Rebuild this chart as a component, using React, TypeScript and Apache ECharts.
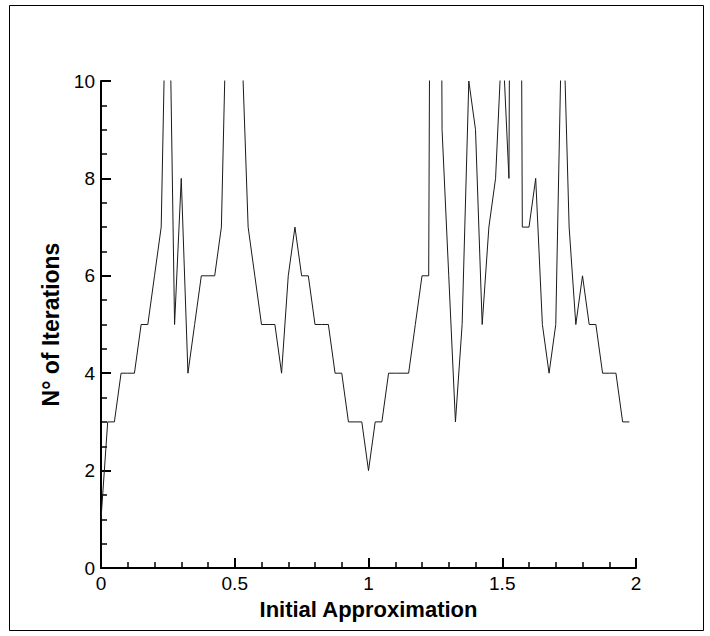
import React, { useEffect, useRef } from "react";
import * as echarts from "echarts";

// Starting guess x0 for each run of the iteration
const approximations = [
  0, 0.025, 0.05, 0.075, 0.1, 0.125, 0.15, 0.175, 0.2, 0.225,
  0.25, 0.275, 0.3, 0.325, 0.35, 0.375, 0.4, 0.425, 0.45, 0.475,
  0.5, 0.525, 0.55, 0.575, 0.6, 0.625, 0.65, 0.675, 0.7, 0.725,
  0.75, 0.775, 0.8, 0.825, 0.85, 0.875, 0.9, 0.925, 0.95, 0.975,
  1, 1.025, 1.05, 1.075, 1.1, 1.125, 1.15, 1.175, 1.2, 1.225,
  1.25, 1.275, 1.3, 1.325, 1.35, 1.375, 1.4, 1.425, 1.45, 1.475,
  1.5, 1.525, 1.55, 1.575, 1.6, 1.625, 1.65, 1.675, 1.7, 1.725,
  1.75, 1.775, 1.8, 1.825, 1.85, 1.875, 1.9, 1.925, 1.95, 1.975,
];

// Iterations needed to converge from each starting guess
const iterations = [
  1, 3, 3, 4, 4, 4, 5, 5, 6, 7,
  14, 5, 8, 4, 5, 6, 6, 6, 7, 13,
  15, 11, 7, 6, 5, 5, 5, 4, 6, 7,
  6, 6, 5, 5, 5, 4, 4, 3, 3, 3,
  2, 3, 3, 4, 4, 4, 4, 5, 6, 6,
  40, 9, 6, 3, 5, 10, 9, 5, 7, 8,
  11, 8, 40, 7, 7, 8, 5, 4, 5, 12,
  7, 5, 6, 5, 5, 4, 4, 4, 3, 3,
];

const xTicks = [0, 0.5, 1, 1.5, 2];
const yTicks = [0, 2, 4, 6, 8, 10];

const FONT = "'Liberation Sans', Arial, Helvetica, sans-serif";

export default function App() {
  const ref = useRef<HTMLDivElement>(null);

  useEffect(() => {
    if (!ref.current) return;
    const chart = echarts.init(ref.current, undefined, { renderer: "svg" });
    const points = approximations.map((x, i) => [x, iterations[i]]);

    chart.setOption({
      animation: false,
      backgroundColor: "#ffffff",
      graphic: [
        {
          type: "rect",
          shape: { x: 9.5, y: 5.5, width: 694, height: 625 },
          style: { fill: "none", stroke: "#000", lineWidth: 1 },
          silent: true,
        },
      ],
      grid: { left: 101, top: 81, width: 535, height: 487, containLabel: false },
      xAxis: {
        type: "value",
        min: xTicks[0],
        max: xTicks[xTicks.length - 1],
        interval: 0.5,
        name: "Initial Approximation",
        nameLocation: "middle",
        nameGap: 30,
        nameTextStyle: { fontFamily: FONT, fontSize: 22, fontWeight: "bold", color: "#000" },
        axisLine: { show: true, lineStyle: { color: "#000", width: 2 } },
        axisTick: { show: true, inside: true, length: 10, lineStyle: { color: "#000", width: 2 } },
        minorTick: { show: true, splitNumber: 5, length: 6, lineStyle: { color: "#000", width: 1.5 } },
        splitLine: { show: false },
        axisLabel: { fontFamily: FONT, fontSize: 19, color: "#000", margin: 6 },
      },
      yAxis: {
        type: "value",
        min: yTicks[0],
        max: yTicks[yTicks.length - 1],
        interval: 2,
        name: "N° of Iterations",
        nameLocation: "middle",
        nameGap: 37,
        nameRotate: 90,
        nameTextStyle: { fontFamily: FONT, fontSize: 23, fontWeight: "bold", color: "#000" },
        axisLine: { show: true, lineStyle: { color: "#000", width: 2 } },
        axisTick: { show: true, inside: true, length: 10, lineStyle: { color: "#000", width: 2 } },
        minorTick: { show: true, splitNumber: 4, length: 6, lineStyle: { color: "#000", width: 1.5 } },
        splitLine: { show: false },
        axisLabel: { fontFamily: FONT, fontSize: 19, color: "#000", margin: 6 },
      },
      series: [
        {
          type: "line",
          data: points,
          clip: true,
          showSymbol: false,
          symbol: "none",
          lineStyle: { color: "#1a1a1a", width: 1 },
        },
      ],
    });

    return () => chart.dispose();
  }, []);

  return (
    <div
      ref={ref}
      style={{ position: "fixed", left: 0, top: 0, width: 710, height: 636, background: "#fff" }}
    />
  );
}
